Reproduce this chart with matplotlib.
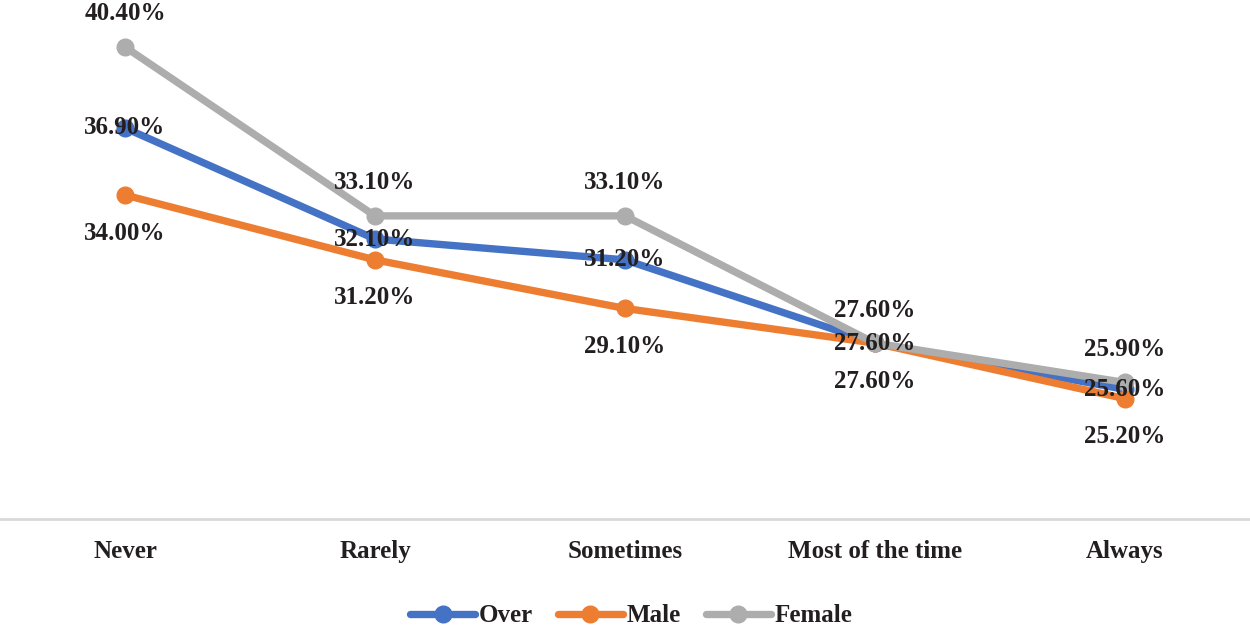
import matplotlib
matplotlib.use("Agg")
import matplotlib.pyplot as plt

plt.rcParams['font.family'] = ['Liberation Serif', 'DejaVu Serif']

# ── data ─────────────────────────────────────────────────────────────
categories = ["Never", "Rarely", "Sometimes", "Most of the time", "Always"]
over = [36.9, 32.1, 31.2, 27.6, 25.6]
male = [34.0, 31.2, 29.1, 27.6, 25.2]
female = [40.4, 33.1, 33.1, 27.6, 25.9]

series = [
    ("Over", over, "#4472C4", 0),      # label centred on point
    ("Male", male, "#ED7D31", -38),    # label below
    ("Female", female, "#ADADAD", 33), # label above
]

fig = plt.figure(figsize=(12.5, 6.3), dpi=100)
ax = fig.add_axes([0, 1 - 519 / 630, 1, 519 / 630])
x = list(range(len(categories)))

for name, vals, col, off in series:
    ax.plot(x, vals, color=col, lw=5.3, marker="o", markersize=12,
            solid_capstyle="round", label=name, zorder=3)

for name, vals, col, off in series:
    for xi, v in zip(x, vals):
        ax.annotate(f"{v:.2f}%", xy=(xi, v), xytext=(0, off),
                    textcoords="offset pixels", ha="center", va="center",
                    fontsize=18, fontweight="bold", color="#231F20", zorder=5)

ax.set_xlim(-0.5, 4.5)
ax.set_ylim(20, 42.43)
ax.set_xticks(x)
ax.set_xticklabels(categories, fontsize=18, fontweight="bold", color="#231F20")
ax.tick_params(axis="x", length=0, pad=15)
ax.set_yticks([])
for s in ["top", "left", "right"]:
    ax.spines[s].set_visible(False)
ax.spines["bottom"].set_color("#D9D9D9")
ax.spines["bottom"].set_linewidth(2)

leg = fig.legend(loc="center", bbox_to_anchor=(0.505, 1 - 616 / 630), ncol=3,
                 frameon=False, handlelength=2.6, columnspacing=1.0,
                 handletextpad=0.15, prop={"size": 18, "weight": "bold"})
for t in leg.get_texts():
    t.set_color("#231F20")

fig.savefig("out.png", dpi=100, facecolor="white")
